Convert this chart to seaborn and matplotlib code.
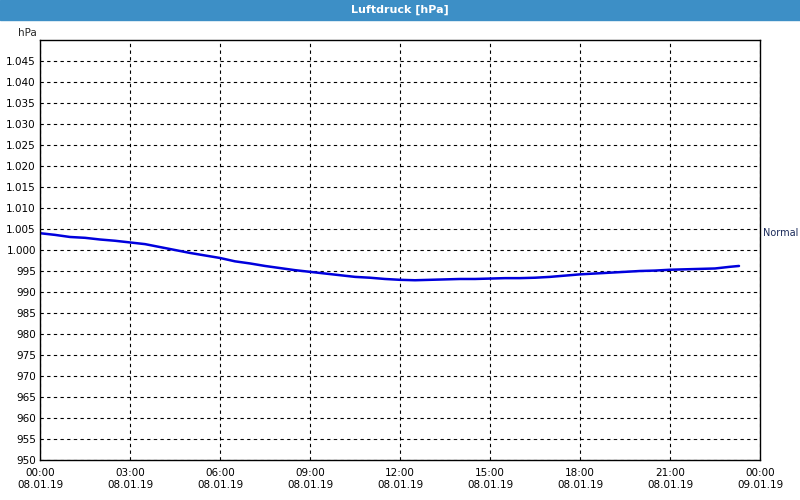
import matplotlib
matplotlib.use("Agg")
import matplotlib.pyplot as plt
import seaborn as sns
import pandas as pd
from matplotlib.patches import Rectangle

hours = [0, 0.5, 1, 1.5, 2, 2.5, 3, 3.5, 4, 4.5, 5, 5.5, 6, 6.5, 7, 7.5, 8, 8.5, 9, 9.5, 10,
         10.5, 11, 11.5, 12, 12.5, 13, 13.5, 14, 14.5, 15, 15.5, 16, 16.5, 17, 17.5, 18, 18.5,
         19, 19.5, 20, 20.5, 21, 21.5, 22, 22.5, 23, 23.3]
pressure = [1004.0, 1003.6, 1003.1, 1002.9, 1002.5, 1002.2, 1001.8, 1001.4, 1000.7, 1000.0,
            999.3, 998.7, 998.1, 997.3, 996.8, 996.2, 995.7, 995.2, 994.8, 994.4, 994.0,
            993.6, 993.4, 993.1, 992.9, 992.8, 992.9, 993.0, 993.1, 993.1, 993.2, 993.3,
            993.3, 993.4, 993.6, 993.9, 994.2, 994.4, 994.6, 994.8, 995.0, 995.1, 995.3,
            995.4, 995.5, 995.6, 996.0, 996.2]
yticks = list(range(950, 1050, 5))
xtick_labels = ["00:00\n08.01.19", "03:00\n08.01.19", "06:00\n08.01.19", "09:00\n08.01.19",
                "12:00\n08.01.19", "15:00\n08.01.19", "18:00\n08.01.19", "21:00\n08.01.19",
                "00:00\n09.01.19"]
normal_value = 1004.0
title = "Luftdruck [hPa]"

df = pd.DataFrame({"h": hours, "p": pressure})
sns.set_style("white")
plt.rcParams['font.family'] = ['DejaVu Sans']

fig = plt.figure(figsize=(8, 5), dpi=100)
fig.patches.append(Rectangle((0, 0.96), 1, 0.04, transform=fig.transFigure,
                             color="#3d8fc6", zorder=0))
fig.text(0.5, 0.98, title, color="white", fontsize=8, fontweight="bold",
         ha="center", va="center")
ax = fig.add_axes([0.05, 0.08, 0.90, 0.84])
sns.lineplot(data=df, x="h", y="p", ax=ax, color="#0000dd", linewidth=1.8)
ax.set_xlim(0, 24)
ax.set_ylim(950, 1050)
ax.set_xticks(range(0, 25, 3))
ax.set_xticklabels(xtick_labels, fontsize=7.5, color="black")
ax.set_yticks(yticks)
ax.set_yticklabels([f"{v/1000:.3f}" if v >= 1000 else str(v) for v in yticks],
                   fontsize=7.5, color="black")
ax.tick_params(axis="x", length=0, pad=6)
ax.tick_params(axis="y", length=0, pad=3)
ax.grid(True, color="black", linestyle=(0, (3, 3)), linewidth=0.8)
ax.set_xlabel("")
ax.set_ylabel("")
for s in ax.spines.values():
    s.set_color("black")
    s.set_linewidth(1)
ax.text(-0.005, 1.005, "hPa", transform=ax.transAxes, ha="right", va="bottom", fontsize=7.5)
ax.annotate("Normal", xy=(1, normal_value), xycoords=("axes fraction", "data"),
            xytext=(2, 0), textcoords="offset points", va="center", fontsize=7,
            color="#1a2a5a")
fig.savefig("out.png", dpi=100)
